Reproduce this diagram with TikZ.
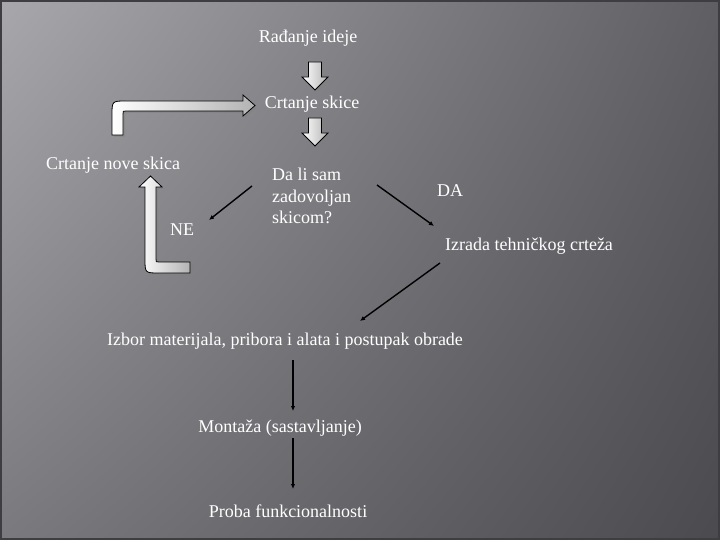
\documentclass[tikz,border=0pt]{standalone}
\usepackage{fontspec}
\setmainfont{Liberation Serif}
\usetikzlibrary{arrows.meta,shadows,shadings}
\definecolor{bgTL}{HTML}{A8A7AC}
\definecolor{bgTR}{HTML}{5F5E63}
\definecolor{bgBL}{HTML}{7A797E}
\definecolor{bgBR}{HTML}{4B4A4F}
\definecolor{frame}{HTML}{3E3E42}
\begin{document}
\begin{tikzpicture}[x=1pt,y=-1pt,
  lbl/.style={text=white, font=\fontsize{18}{21}\selectfont, inner sep=0pt},
  blockarrow/.style={draw=black, line width=0.8pt, left color=white, right color=gray!60,
    drop shadow={opacity=0.45, shadow xshift=2pt, shadow yshift=-2pt}},
  flow/.style={draw=black, line width=1.4pt, -{Latex[length=5pt,width=4.5pt]}}]
\useasboundingbox (0,0) rectangle (720,540);
\shade[upper left=bgTL, upper right=bgTR, lower left=bgBL, lower right=bgBR] (0,0) rectangle (720,540);
\draw[frame, line width=2pt] (1,1) rectangle (719,539);

% text nodes
\node[lbl] (idea) at (308,38) {Rađanje ideje};
\node[lbl] (skice) at (312,104) {Crtanje skice};
\node[lbl] (nove) at (113,165) {Crtanje nove skica};
\node[lbl] (ne) at (182,230) {NE};
\node[lbl, anchor=west, align=left, font=\fontsize{18}{21.5}\selectfont] (q) at (272,196) {Da li sam\\zadovoljan\\skicom?};
\node[lbl] (da) at (450,191) {DA};
\node[lbl] (izrada) at (529,246) {Izrada tehničkog crteža};
\node[lbl] (izbor) at (285,341) {Izbor materijala, pribora i alata i postupak obrade};
\node[lbl] (montaza) at (280,428) {Montaža (sastavljanje)};
\node[lbl] (proba) at (288,511) {Proba funkcionalnosti};

% block arrows down
\path[blockarrow] (308.5,62) -- (321.5,62) -- (321.5,77) -- (328,77) -- (315,90) -- (302,77) -- (308.5,77) -- cycle;
\path[blockarrow] (308.5,118) -- (321.5,118) -- (321.5,133) -- (328,133) -- (315,146) -- (302,133) -- (308.5,133) -- cycle;

% bent arrow to "Crtanje skice"
\path[blockarrow] (112,135) -- (112,115) .. controls (112,101) .. (126,101) -- (243,101) -- (243,95) -- (255,105.5) -- (243,116) -- (243,111) -- (126,111) .. controls (123,111) .. (123,114) -- (123,135) -- cycle;

% bent arrow up to "Crtanje nove skica"
\path[blockarrow] (150.5,176) -- (162,187) -- (156,187) -- (156,259) .. controls (156,262) .. (159,262) -- (190,262) -- (190,273) -- (159,273) .. controls (145,273) .. (145,259) -- (145,187) -- (139,187) -- cycle;

% connector coordinates
\coordinate (qL) at (252,186);
\coordinate (neE) at (209,220);
\coordinate (qR) at (377,185);
\coordinate (izT) at (434,226);
\coordinate (izB) at (440,263);
\coordinate (izborT) at (360,321);
\coordinate (izborB) at (293,360);
\coordinate (montT) at (293,411);
\coordinate (montB) at (293,438);
\coordinate (probaT) at (293,489);

\draw[flow] (qL) -- (neE);
\draw[flow] (qR) -- (izT);
\draw[flow] (izB) -- (izborT);
\draw[flow] (izborB) -- (montT);
\draw[flow] (montB) -- (probaT);
\end{tikzpicture}
\end{document}
